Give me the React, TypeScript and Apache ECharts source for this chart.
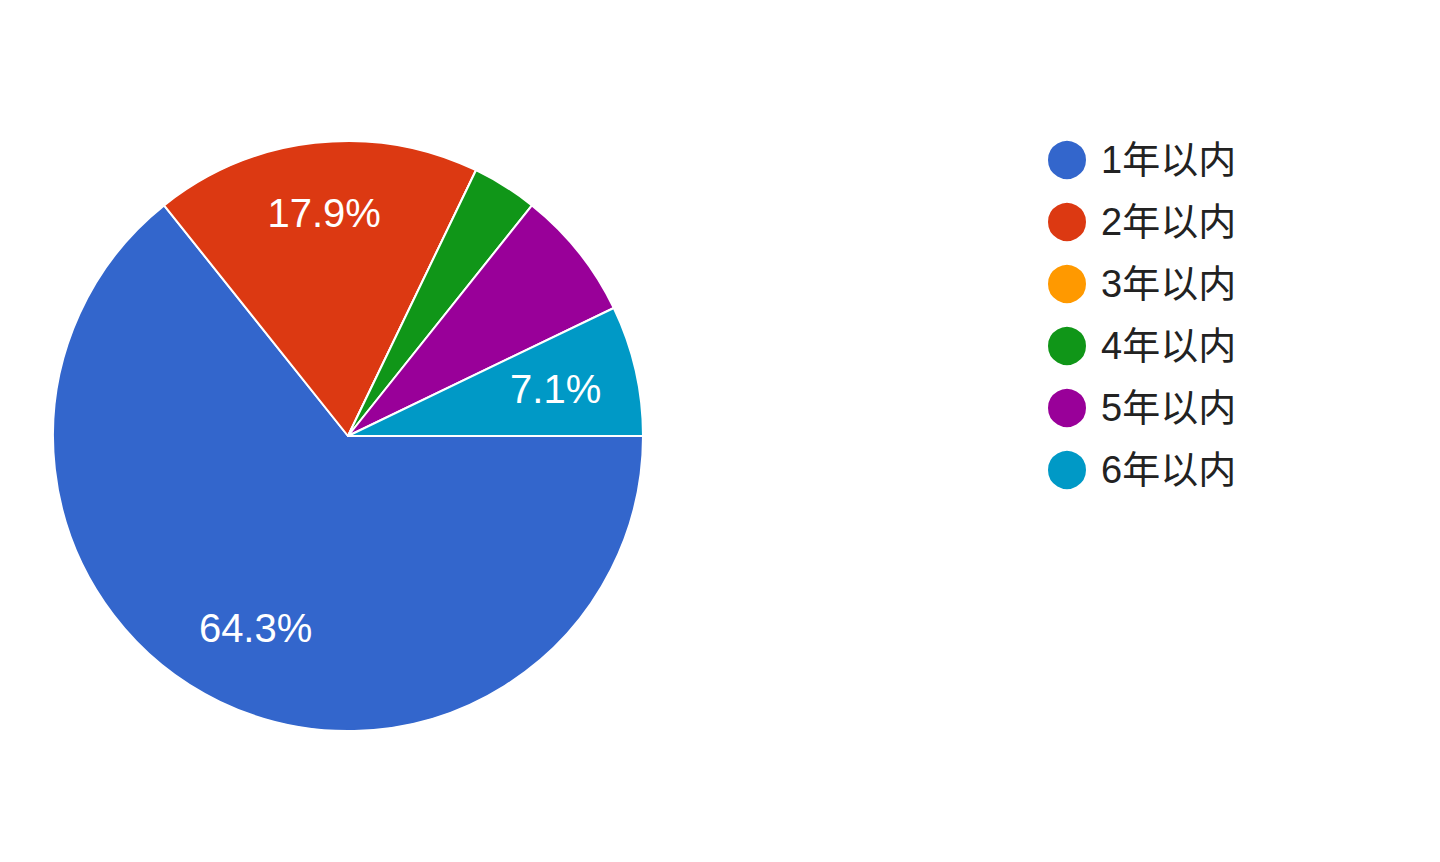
import React, { useEffect, useRef } from "react";
import * as echarts from "echarts";

const categories = ["1年以内", "2年以内", "3年以内", "4年以内", "5年以内", "6年以内"];
const counts = [18, 5, 0, 1, 2, 2];
const colors = ["#3366cc", "#dc3912", "#ff9900", "#109618", "#990099", "#0099c6"];
const showLabel = [true, true, false, false, false, true];

export default function App() {
  const ref = useRef<HTMLDivElement>(null);
  useEffect(() => {
    if (!ref.current) return;
    const chart = echarts.init(ref.current, undefined, { renderer: "svg" });
    const total = counts.reduce((a, b) => a + b, 0);
    const baseData = categories.map((name, i) => ({
      name,
      value: counts[i],
      itemStyle: { color: colors[i] },
    }));
    const labelData = categories.map((name, i) => ({
      name,
      value: counts[i],
      itemStyle: { color: "rgba(0,0,0,0)", borderWidth: 0 },
      label: { show: showLabel[i], offset: i === 1 ? [0, -11] : [0, 0] },
    }));
    chart.setOption({
      animation: false,
      backgroundColor: "#ffffff",
      legend: {
        orient: "vertical",
        left: 1046,
        top: 139,
        padding: 0,
        icon: "circle",
        itemWidth: 40,
        itemHeight: 40,
        itemGap: 20,
        data: categories,
        textStyle: {
          fontSize: 38,
          lineHeight: 40,
          color: "#222222",
          fontFamily: "Arial, 'Liberation Sans', 'Noto Sans CJK SC', sans-serif",
          padding: [0, 0, 0, 9],
        },
      },
      series: [
        {
          type: "pie",
          center: [348, 436],
          radius: [0, 295],
          startAngle: 0,
          clockwise: true,
          silent: true,
          label: { show: false },
          labelLine: { show: false },
          itemStyle: { borderColor: "#ffffff", borderWidth: 2 },
          data: baseData,
        },
        {
          type: "pie",
          center: [348, 436],
          radius: [125, 295],
          startAngle: 0,
          clockwise: true,
          silent: true,
          legendHoverLink: false,
          label: {
            position: "inside",
            color: "#ffffff",
            fontSize: 40,
            fontFamily: "Arial, 'Liberation Sans', sans-serif",
            formatter: (p: any) => ((p.value / total) * 100).toFixed(1) + "%",
          },
          labelLine: { show: false },
          data: labelData,
        },
      ],
    });
    return () => chart.dispose();
  }, []);
  return (
    <div
      ref={ref}
      style={{ position: "fixed", left: 0, top: 0, width: 1440, height: 862 }}
    />
  );
}
